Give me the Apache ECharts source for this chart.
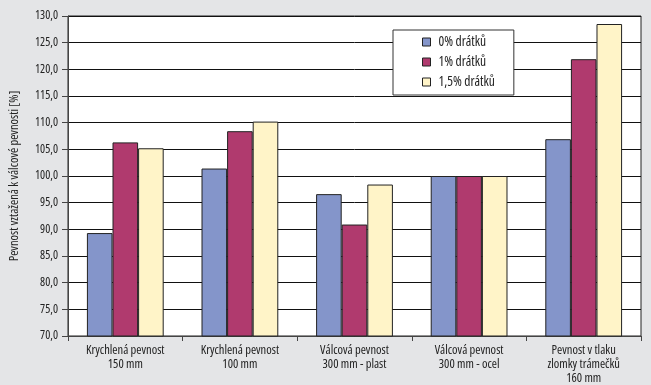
<!DOCTYPE html>
<html>
<head>
<meta charset="utf-8">
<script src="https://cdn.jsdelivr.net/npm/echarts@6/dist/echarts.min.js"></script>
<style>
  html, body { margin: 0; padding: 0; background: #e4e5e7; }
  #chart { width: 651px; height: 385px; }
</style>
</head>
<body>
<div id="chart"></div>
<script>
// Test specimen groups
const categories = [
  'Krychlená pevnost\n150 mm',
  'Krychlená pevnost\n100 mm',
  'Válcová pevnost\n300 mm - plast',
  'Válcová pevnost\n300 mm - ocel',
  'Pevnost v tlaku\nzlomky trámečků\n160 mm'
];
// Relative strength [%] for each fibre content
const fibre0 = [89.3, 101.4, 96.6, 100.0, 106.9];
const fibre1 = [106.3, 108.4, 90.9, 100.0, 121.9];
const fibre15 = [105.2, 110.2, 98.4, 100.0, 128.5];
const seriesNames = ['0% drátků', '1% drátků', '1,5% drátků'];
const seriesColors = ['#8495ca', '#b03a6e', '#fff4c8'];

// condensed width of the variable Open Sans face
const font = '"Open Sans", "Roboto Condensed", sans-serif';
const txt = (size, extra) => Object.assign({
  fontFamily: font, fontWeight: 'condensed', fontSize: size, color: '#222'
}, extra || {});

const chart = echarts.init(document.getElementById('chart'));

const bar = (name, data, color) => ({
  name, type: 'bar', data,
  barGap: '0%', barCategoryGap: '33%',
  itemStyle: { color, borderColor: '#222', borderWidth: 1 },
  emphasis: { disabled: true }
});

chart.setOption({
  animation: false,
  backgroundColor: '#e4e5e7',
  grid: { left: 64, right: 10, top: 16, bottom: 46, backgroundColor: '#fff', show: true, borderColor: '#222', borderWidth: 1 },
  legend: {
    orient: 'vertical', left: 393, top: 30,
    itemWidth: 8, itemHeight: 8, itemGap: 6,
    padding: [5, 19, 6, 29],
    backgroundColor: '#fff', borderColor: '#333', borderWidth: 1,
    borderRadius: 0,
    textStyle: txt(13.5, { padding: [0, 0, 0, 3] }),
    data: seriesNames.map(n => ({ name: n, itemStyle: { borderColor: '#222', borderWidth: 1 } })),
    icon: 'rect'
  },
  xAxis: {
    type: 'category', data: categories,
    axisLine: { lineStyle: { color: '#444' } },
    axisTick: { show: true, length: 5, lineStyle: { color: '#444' } },
    axisLabel: txt(12.5, { lineHeight: 14, margin: 7, interval: 0 })
  },
  yAxis: {
    type: 'value', min: 70, max: 130, interval: 5,
    name: 'Pevnost vztažená k válcové pevnosti [%]',
    nameLocation: 'middle', nameGap: 47, nameRotate: 90,
    nameTextStyle: txt(12.5),
    axisLine: { show: true, lineStyle: { color: '#444' } },
    axisTick: { show: true, inside: false, length: 6, lineStyle: { color: '#444' } },
    axisLabel: txt(12, { margin: 10, formatter: v => v.toFixed(1).replace('.', ',') }),
    splitLine: { lineStyle: { color: '#111', width: 1 } }
  },
  series: [
    bar(seriesNames[0], fibre0, seriesColors[0]),
    bar(seriesNames[1], fibre1, seriesColors[1]),
    bar(seriesNames[2], fibre15, seriesColors[2])
  ]
});
</script>
</body>
</html>
